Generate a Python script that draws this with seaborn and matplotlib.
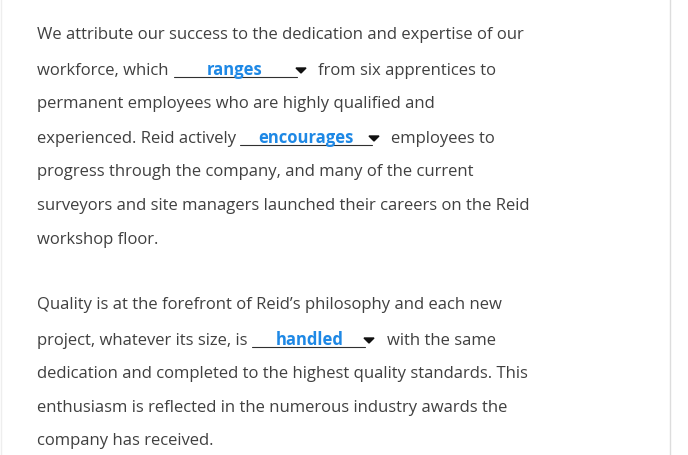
import matplotlib
matplotlib.use("Agg")
import matplotlib.pyplot as plt
import seaborn as sns

sns.set_theme(style="white")
plt.rcParams['font.family'] = ['Open Sans', 'DejaVu Sans']

plain_lines = [
    (33, "We attribute our success to the dedication and expertise of our"),
    (102, "permanent employees who are highly qualified and"),
    (170, "progress through the company, and many of the current"),
    (204, "surveyors and site managers launched their careers on the Reid"),
    (238, "workshop floor."),
    (303, "Quality is at the forefront of Reid\u2019s philosophy and each new"),
    (372, "dedication and completed to the highest quality standards. This"),
    (406, "enthusiasm is reflected in the numerous industry awards the"),
    (439, "company has received."),
]
# y, before text, underline start, underline end, word, word x, arrow x, after text, after x
dropdown_lines = [
    (69, "workforce, which", 174, 297, "ranges", 207, 301, "from six apprentices to", 318),
    (137, "experienced. Reid actively", 240, 372, "encourages", 258, 374, "employees to", 391),
    (339, "project, whatever its size, is", 252, 365, "handled", 276, 369, "with the same", 387),
]

fig = plt.figure(figsize=(6.88, 4.56), dpi=100)
ax = fig.add_axes([0, 0, 1, 1])
ax.set_xlim(0, 688)
ax.set_ylim(456, 0)
ax.axis("off")

txt = "#404040"
blue = "#1e88e5"
fs = 12
dy = 2
for y, s in plain_lines:
    ax.text(37, y + dy, s, fontsize=fs, color=txt, va="center", ha="left")
for y, before, u0, u1, word, wx, axp, after, afx in dropdown_lines:
    y = y + dy
    ax.text(37, y, before, fontsize=fs, color=txt, va="center")
    ax.plot([u0, u1], [y + 7, y + 7], color="#303030", lw=0.8)
    ax.text(wx, y - 1, word, fontsize=fs, color=blue, fontweight="bold", va="center")
    ax.fill([axp - 5, axp + 5, axp], [y - 2, y - 2, y + 3], color="#111111")
    ax.text(afx, y, after, fontsize=fs, color=txt, va="center")

ax.plot([670, 670], [0, 456], color="#dddddd", lw=1)
ax.plot([0.5, 0.5], [0, 456], color="#eeeeee", lw=1)
fig.savefig("out.png", dpi=100)
